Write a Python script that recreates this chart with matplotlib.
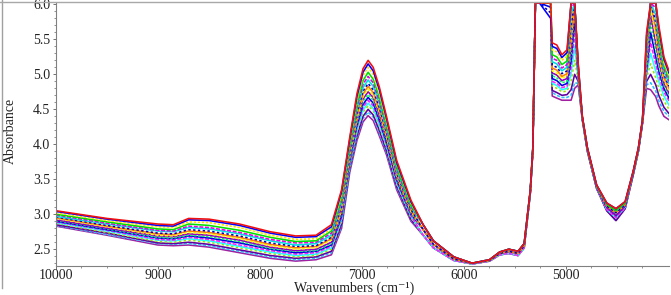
import numpy as np
import matplotlib
matplotlib.use('Agg')
import matplotlib.pyplot as plt
from matplotlib.lines import Line2D

plt.rcParams['font.family'] = ['Liberation Serif', 'DejaVu Serif']

# every block has one row per spectrum (or a few shared rows), highest first
nir_wn = [10000, 9500, 9000, 8850, 8700, 8500, 8200, 7900, 7650, 7450, 7300]
nir_abs = [
    [3.05, 2.94, 2.86, 2.85, 2.94, 2.93, 2.86, 2.75, 2.69, 2.70, 2.85],
    [3.04, 2.93, 2.84, 2.83, 2.92, 2.91, 2.84, 2.73, 2.67, 2.68, 2.82],
    [3.02, 2.91, 2.82, 2.81, 2.89, 2.88, 2.81, 2.70, 2.64, 2.65, 2.79],
    [3.00, 2.89, 2.79, 2.78, 2.86, 2.84, 2.77, 2.67, 2.61, 2.62, 2.76],
    [2.99, 2.87, 2.77, 2.76, 2.83, 2.81, 2.74, 2.64, 2.59, 2.60, 2.73],
    [2.97, 2.86, 2.76, 2.75, 2.81, 2.79, 2.72, 2.62, 2.56, 2.58, 2.70],
    [2.96, 2.84, 2.73, 2.72, 2.78, 2.76, 2.69, 2.59, 2.54, 2.55, 2.67],
    [2.95, 2.83, 2.72, 2.71, 2.76, 2.74, 2.67, 2.57, 2.52, 2.54, 2.65],
    [2.94, 2.82, 2.70, 2.69, 2.74, 2.72, 2.65, 2.55, 2.50, 2.52, 2.63],
    [2.92, 2.80, 2.69, 2.68, 2.72, 2.70, 2.63, 2.53, 2.48, 2.50, 2.60],
    [2.91, 2.79, 2.67, 2.66, 2.70, 2.68, 2.61, 2.51, 2.47, 2.48, 2.58],
    [2.90, 2.78, 2.66, 2.65, 2.69, 2.66, 2.59, 2.50, 2.45, 2.47, 2.56],
    [2.89, 2.77, 2.64, 2.63, 2.67, 2.64, 2.56, 2.48, 2.43, 2.45, 2.54],
    [2.88, 2.76, 2.63, 2.62, 2.65, 2.62, 2.54, 2.46, 2.41, 2.43, 2.52],
    [2.87, 2.74, 2.61, 2.60, 2.63, 2.60, 2.52, 2.44, 2.39, 2.41, 2.50],
    [2.85, 2.73, 2.59, 2.58, 2.60, 2.57, 2.49, 2.41, 2.37, 2.39, 2.47],
    [2.84, 2.71, 2.58, 2.57, 2.58, 2.55, 2.47, 2.39, 2.35, 2.37, 2.45],
    [2.83, 2.70, 2.56, 2.55, 2.56, 2.53, 2.45, 2.37, 2.33, 2.35, 2.42],
]

peak_wn = [7200, 7120, 7050, 6990, 6940, 6890, 6830, 6760, 6660, 6520]
peak_abs = [
    [3.35, 4.10, 4.72, 5.08, 5.20, 5.10, 4.82, 4.40, 3.77, 3.20],
    [3.32, 4.07, 4.68, 5.03, 5.15, 5.05, 4.78, 4.37, 3.74, 3.18],
    [3.28, 4.04, 4.63, 4.98, 5.10, 5.00, 4.73, 4.33, 3.72, 3.16],
    [3.23, 3.99, 4.57, 4.91, 5.03, 4.93, 4.67, 4.28, 3.68, 3.13],
    [3.19, 3.96, 4.53, 4.86, 4.97, 4.88, 4.62, 4.24, 3.65, 3.11],
    [3.16, 3.93, 4.49, 4.81, 4.92, 4.83, 4.58, 4.21, 3.62, 3.10],
    [3.12, 3.89, 4.44, 4.76, 4.87, 4.78, 4.53, 4.17, 3.59, 3.07],
    [3.09, 3.87, 4.41, 4.72, 4.83, 4.74, 4.49, 4.14, 3.57, 3.06],
    [3.06, 3.84, 4.37, 4.68, 4.79, 4.70, 4.46, 4.11, 3.55, 3.04],
    [3.04, 3.82, 4.34, 4.65, 4.75, 4.67, 4.42, 4.09, 3.53, 3.03],
    [3.01, 3.79, 4.30, 4.61, 4.71, 4.63, 4.39, 4.06, 3.51, 3.01],
    [2.98, 3.77, 4.27, 4.57, 4.67, 4.59, 4.35, 4.03, 3.49, 3.00],
    [2.95, 3.74, 4.24, 4.53, 4.63, 4.55, 4.32, 4.00, 3.47, 2.98],
    [2.93, 3.72, 4.20, 4.49, 4.59, 4.51, 4.28, 3.98, 3.45, 2.97],
    [2.90, 3.69, 4.17, 4.46, 4.55, 4.48, 4.25, 3.95, 3.43, 2.95],
    [2.86, 3.66, 4.12, 4.40, 4.50, 4.42, 4.20, 3.91, 3.40, 2.93],
    [2.83, 3.63, 4.09, 4.37, 4.46, 4.39, 4.16, 3.88, 3.38, 2.92],
    [2.80, 3.60, 4.05, 4.32, 4.41, 4.34, 4.12, 3.85, 3.35, 2.90],
]

# valley and wall, spectra nearly coincide here so three rows are shared
valley_wn = [6400, 6300, 6100, 5920, 5750, 5650, 5560, 5470, 5410, 5350, 5325, 5300, 5260]
valley_abs = [
    [2.85, 2.62, 2.39, 2.30, 2.35, 2.46, 2.50, 2.47, 2.58, 3.34, 3.95, 6.02, 6.02],
    [2.78, 2.57, 2.36, 2.30, 2.34, 2.44, 2.47, 2.44, 2.55, 3.32, 3.92, 6.02, 6.02],
    [2.70, 2.52, 2.34, 2.29, 2.33, 2.42, 2.44, 2.41, 2.52, 3.30, 3.90, 6.02, 6.02],
]

band1_wn = [5150, 5135, 5090, 5040, 4990, 4950, 4915, 4880, 4840]
band1_abs = [
    [6.02, 5.45, 5.42, 5.28, 5.35, 6.02, 6.02, 5.15, 4.40],
    [5.80, 5.40, 5.37, 5.24, 5.31, 6.02, 6.02, 5.14, 4.40],
    [6.02, 5.35, 5.32, 5.20, 5.26, 6.02, 6.02, 5.12, 4.40],
    [6.02, 5.28, 5.25, 5.14, 5.19, 6.02, 6.02, 5.10, 4.39],
    [6.02, 5.23, 5.20, 5.09, 5.14, 5.95, 6.02, 5.08, 4.39],
    [6.02, 5.18, 5.15, 5.05, 5.10, 5.85, 6.02, 5.06, 4.39],
    [5.88, 5.13, 5.10, 5.01, 5.05, 5.70, 6.02, 5.05, 4.38],
    [6.02, 5.09, 5.06, 4.97, 5.01, 5.60, 6.02, 5.03, 4.38],
    [6.02, 5.05, 5.02, 4.94, 4.98, 5.50, 6.02, 5.02, 4.38],
    [6.02, 5.02, 4.99, 4.91, 4.94, 5.40, 6.02, 5.00, 4.38],
    [6.02, 4.98, 4.95, 4.88, 4.90, 5.30, 5.95, 4.99, 4.37],
    [5.96, 4.94, 4.91, 4.84, 4.87, 5.20, 5.80, 4.97, 4.37],
    [6.02, 4.90, 4.87, 4.81, 4.83, 5.10, 5.60, 4.96, 4.37],
    [6.02, 4.87, 4.84, 4.78, 4.80, 5.00, 5.40, 4.94, 4.36],
    [6.02, 4.83, 4.80, 4.75, 4.76, 4.90, 5.20, 4.92, 4.36],
    [6.02, 4.77, 4.74, 4.70, 4.71, 4.78, 5.00, 4.90, 4.36],
    [6.02, 4.74, 4.70, 4.67, 4.67, 4.70, 4.88, 4.87, 4.35],
    [6.02, 4.69, 4.66, 4.63, 4.63, 4.63, 4.80, 4.85, 4.35],
]

descent_wn = [4790, 4700, 4600, 4510, 4420, 4340, 4290, 4250]
descent_abs = [
    [3.95, 3.42, 3.16, 3.08, 3.18, 3.62, 3.95, 4.35],
    [3.94, 3.41, 3.14, 3.05, 3.16, 3.61, 3.94, 4.34],
    [3.93, 3.40, 3.12, 3.02, 3.14, 3.60, 3.93, 4.33],
    [3.92, 3.39, 3.10, 2.98, 3.12, 3.59, 3.92, 4.32],
    [3.91, 3.38, 3.07, 2.95, 3.10, 3.58, 3.91, 4.31],
    [3.90, 3.37, 3.05, 2.91, 3.08, 3.57, 3.90, 4.30],
]

band2_wn = [4210, 4170, 4120, 4090, 4040, 3990]
band2_abs = [
    [5.60, 6.02, 6.02, 5.70, 5.25, 5.05],
    [5.55, 6.02, 6.02, 5.65, 5.22, 5.02],
    [5.50, 6.02, 6.02, 5.60, 5.17, 4.98],
    [5.42, 6.02, 6.02, 5.52, 5.12, 4.94],
    [5.37, 6.02, 5.95, 5.47, 5.08, 4.90],
    [5.32, 6.02, 5.85, 5.42, 5.04, 4.87],
    [5.27, 6.02, 5.75, 5.36, 5.00, 4.83],
    [5.23, 6.02, 5.65, 5.30, 4.96, 4.80],
    [5.19, 5.95, 5.55, 5.25, 4.92, 4.76],
    [5.15, 5.85, 5.45, 5.20, 4.88, 4.73],
    [5.11, 5.75, 5.35, 5.12, 4.84, 4.70],
    [5.07, 5.60, 5.25, 5.05, 4.80, 4.66],
    [5.03, 5.45, 5.15, 4.98, 4.75, 4.62],
    [4.99, 5.30, 5.05, 4.90, 4.69, 4.56],
    [4.95, 5.15, 4.95, 4.80, 4.62, 4.50],
    [4.90, 5.00, 4.85, 4.70, 4.53, 4.44],
    [4.85, 4.88, 4.76, 4.62, 4.47, 4.40],
    [4.80, 4.78, 4.68, 4.55, 4.40, 4.35],
]

line_colors = ['#f01010', '#0000ff', '#ffe000', '#00e000', '#e000e0', '#00e0e0',
               '#0000c0', '#ff8000', '#ffff00', '#9000c0', '#00ff60', '#0000e0',
               '#ff20ff', '#20ffff', '#a0e000', '#6000a0', '#30c0ff', '#a020a0']
line_styles = ['-', '-', (0, (1.5, 1)), '-', (0, (2.5, 1)), '-',
               (0, (1.5, 1.5)), '-', (0, (2, 1)), '-', (0, (1.5, 1)), '-',
               (0, (2.5, 1)), '-', (0, (1.5, 1.5)), '-', (0, (2, 1)), '-']

wn = nir_wn + peak_wn + valley_wn + band1_wn + descent_wn + band2_wn

fig = plt.figure(figsize=(6.71, 2.95), dpi=100)
ax = fig.add_axes([56 / 671, 1 - 266 / 295, 613 / 671, 263 / 295])

# row 0 goes last, its red stays on top like in the original
for i in reversed(range(len(nir_abs))):
    absorb = (nir_abs[i] + peak_abs[i] + valley_abs[i // 6] + band1_abs[i]
              + descent_abs[i // 3] + band2_abs[i])
    ax.plot(wn, absorb, color=line_colors[i], lw=1.15, ls=line_styles[i], dash_capstyle='butt')

ax.set_xlim(10000, 3990)
ax.set_ylim(2.26, 6.02)
ax.set_xticks([10000, 9000, 8000, 7000, 6000, 5000])
ax.set_xticks(np.arange(4250, 10000, 250), minor=True)
ax.set_yticks([2.5, 3.0, 3.5, 4.0, 4.5, 5.0, 5.5, 6.0])
ax.set_yticks(np.arange(2.3, 6.0, 0.1), minor=True)
ax.set_yticklabels(['2.5', '3.0', '3.5', '4.0', '4.5', '5.0', '5.5', '6.0'])

for s in ['top', 'right']:
    ax.spines[s].set_visible(False)
for s in ['left', 'bottom']:
    ax.spines[s].set_color('#808080')
    ax.spines[s].set_linewidth(0.8)
ax.tick_params(which='major', length=2, width=0.7, color='#707070',
               labelsize=10, labelcolor='#222222', pad=0)
ax.tick_params(axis='y', which='major', pad=2)
ax.tick_params(which='minor', length=1.5, width=0.6, color='#808080')

fig.text(10.5 / 671, 1 - 131 / 295, 'Absorbance', rotation=90, fontsize=10,
         color='#222222', ha='center', va='center')
fig.text(354 / 671, 1 - 288 / 295, 'Wavenumbers (cm\u207b\u00b9)', fontsize=10,
         color='#222222', ha='center', va='center')

# grey frame left over from the screenshot
fig.add_artist(Line2D([1.5 / 671, 1.5 / 671], [1 - 288 / 295, 1], color='#a0a0a0', lw=1))
fig.add_artist(Line2D([0, 1], [1 - 2 / 295, 1 - 2 / 295], color='#a8a8a8', lw=1))

fig.savefig('out.png', dpi=100)
